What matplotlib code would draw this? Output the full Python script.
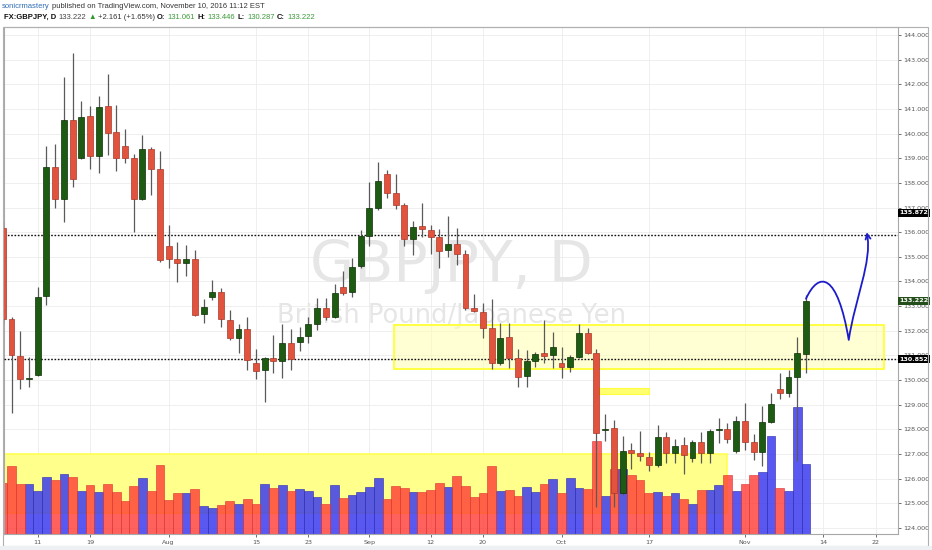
import matplotlib
matplotlib.use("Agg")
import matplotlib.pyplot as plt
import matplotlib.transforms as mtransforms
from matplotlib.patches import Rectangle, FancyArrowPatch
from matplotlib.path import Path
import numpy as np
import pandas as pd

# --- données (GBPJPY, journalier) ---
dates = pd.bdate_range("2016-07-05", "2016-11-10")

opens = [136.18, 132.47, 130.99, 130.03, 130.21, 133.41, 138.66, 137.36, 140.55, 139.02,
         140.71, 139.10, 141.12, 140.05, 139.50, 139.00, 137.35, 139.36, 138.55, 135.44,
         134.90, 134.76, 134.90, 132.67, 133.38, 133.59, 132.44, 131.72, 132.06, 130.71,
         130.41, 130.88, 130.79, 131.49, 131.53, 131.79, 132.28, 132.91, 132.57, 133.79,
         133.59, 134.63, 135.85, 136.97, 138.36, 137.58, 137.10, 135.71, 136.25, 136.09,
         135.82, 135.28, 135.52, 135.11, 132.91, 132.77, 132.10, 130.68, 131.74, 130.90,
         130.17, 130.79, 131.09, 131.02, 130.71, 130.52, 130.93, 131.93, 131.09, 127.98,
         128.04, 125.43, 127.16, 127.05, 126.87, 126.56, 127.70, 127.05, 127.37, 126.83,
         127.50, 127.03, 127.97, 128.02, 127.12, 128.34, 127.50, 127.10, 128.31, 129.63,
         129.49, 130.11, 131.061]
highs = [136.40, 132.55, 131.99, 130.93, 133.79, 139.50, 139.57, 142.28, 143.26, 141.32,
         141.12, 141.53, 142.42, 141.15, 140.17, 139.16, 139.94, 139.47, 139.29, 136.29,
         135.60, 135.48, 135.28, 133.28, 134.06, 133.72, 132.84, 132.28, 132.57, 131.25,
         130.95, 131.83, 132.28, 132.06, 132.17, 132.57, 133.32, 133.32, 133.90, 134.44,
         134.94, 136.09, 138.05, 138.86, 138.52, 138.36, 137.17, 136.47, 137.20, 136.29,
         136.12, 136.66, 136.16, 135.28, 133.49, 133.14, 133.28, 132.30, 132.30, 131.25,
         131.22, 131.15, 132.44, 131.96, 131.36, 131.00, 132.28, 132.10, 131.25, 128.62,
         128.38, 127.73, 127.46, 127.93, 127.10, 128.18, 127.88, 127.60, 127.70, 127.57,
         127.91, 128.00, 128.45, 128.27, 128.54, 129.06, 127.81, 128.95, 129.49, 130.27,
         130.41, 131.74, 133.446]
lows = [132.30, 128.67, 129.63, 129.73, 130.15, 133.05, 136.97, 136.43, 137.82, 138.95,
        138.55, 138.39, 139.13, 138.50, 138.80, 136.02, 137.30, 137.51, 134.80, 134.56,
        133.97, 134.24, 132.60, 132.30, 133.25, 132.14, 131.63, 131.09, 130.41, 130.03,
        129.12, 130.30, 130.07, 130.41, 131.18, 131.49, 132.03, 132.44, 132.50, 133.45,
        133.38, 134.55, 135.44, 136.90, 137.37, 136.93, 135.44, 135.07, 135.82, 135.11,
        134.53, 135.00, 134.67, 132.85, 132.75, 131.70, 130.44, 130.60, 130.48, 129.73,
        129.71, 130.55, 130.71, 130.48, 130.10, 130.34, 130.90, 131.05, 124.84, 127.54,
        124.86, 125.34, 126.38, 126.73, 126.31, 126.49, 126.65, 126.63, 126.19, 126.67,
        126.65, 126.65, 127.46, 127.46, 127.05, 127.16, 126.76, 126.52, 128.25, 129.22,
        129.33, 126.73, 130.287]
closes = [132.47, 131.02, 130.03, 130.06, 133.38, 138.66, 137.33, 140.55, 138.15, 140.69,
          139.10, 141.09, 140.04, 139.00, 139.00, 137.33, 139.36, 138.55, 134.87, 134.90,
          134.76, 134.90, 132.64, 132.98, 133.59, 132.47, 131.72, 132.06, 130.82, 130.38,
          130.88, 130.79, 131.49, 130.84, 131.76, 132.28, 132.91, 132.57, 133.55, 133.55,
          134.60, 135.85, 136.97, 138.09, 137.58, 137.10, 135.71, 136.22, 136.13, 135.82,
          135.25, 135.51, 135.11, 132.91, 132.80, 132.10, 130.68, 131.72, 130.88, 130.14,
          130.77, 131.05, 130.99, 131.33, 130.52, 130.93, 131.93, 131.09, 127.87, 128.02,
          125.41, 127.14, 127.05, 126.92, 126.56, 127.70, 127.05, 127.34, 126.96, 127.50,
          127.03, 127.93, 128.01, 127.60, 128.34, 127.50, 127.10, 128.31, 129.02, 129.49,
          130.11, 131.09, 133.222]
volumes = [51, 68, 50, 50, 43, 57, 54, 60, 57, 43, 49, 42, 50, 42, 33, 48, 56, 43, 69, 34,
           41, 41, 45, 28, 26, 29, 33, 30, 35, 30, 50, 46, 49, 43, 45, 43, 37, 30, 49, 36,
           39, 42, 47, 56, 35, 48, 46, 42, 42, 44, 51, 47, 58, 48, 37, 41, 68, 43, 44, 38,
           47, 42, 50, 55, 41, 56, 46, 45, 93, 38, 65, 65, 59, 54, 41, 42, 38, 41, 35, 30,
           44, 44, 49, 59, 43, 50, 59, 62, 98, 46, 43, 127, 70]

tick_dates = ["2016-07-11", "2016-07-19", "2016-08-01", "2016-08-15", "2016-08-23",
              "2016-09-01", "2016-09-12", "2016-09-20", "2016-10-03", "2016-10-17",
              "2016-11-01", "2016-11-14", "2016-11-22"]
tick_labels = ["11", "19", "Aug", "15", "23", "Sep", "12", "20", "Oct", "17", "Nov", "14", "22"]

price_ticks = list(range(124, 145))
levels = [135.872, 130.852]
last_price = 133.222

# zones dessinées (en barres / prix)
zone_range = (44.85, 100.94, 130.44, 132.24)
zone_small = (68.3, 74.0, 129.42, 129.69)
zone_volume = (-2.0, 83.0, 124.6, 127.0)
# flèche tracée à la main : départ, contrôles, creux, contrôles, pointe
arrow_pts = [(92.0, 133.3), (93.5, 134.45), (95.6, 134.35), (96.9, 131.63),
             (97.6, 133.3), (99.6, 134.8), (98.96, 136.0)]

W, H = 932, 550
fig = plt.figure(figsize=(W / 100, H / 100), dpi=100, facecolor="white")
ax = fig.add_axes([4 / W, 16 / H, 894 / W, 507 / H])
ax.set_facecolor("white")

x = np.arange(len(dates))
all_days = pd.bdate_range("2016-07-05", "2016-11-30")
xticks = all_days.get_indexer(pd.to_datetime(tick_dates))

ax.set_xlim(0.14, 102.54)
ax.set_ylim(123.76, 144.32)

# grille
for t in price_ticks:
    ax.axhline(t, color="#ececec", lw=0.6, zorder=0.5)
for t in xticks:
    ax.axvline(t, color="#ececec", lw=0.6, zorder=0.5)

# filigrane
ax.text(51.4, 133.98, "GBPJPY, D", fontsize=41, color="#e6e6e6", ha="center",
        va="baseline", zorder=0.8)
ax.text(51.4, 132.3, "British Pound/Japanese Yen", fontsize=18.5, color="#e6e6e6",
        ha="center", va="baseline", zorder=0.8)

# zone jaune du volume
x0, x1, y0, y1 = zone_volume
ax.add_patch(Rectangle((x0, y0), x1 - x0, y1 - y0, facecolor="#ffff8c",
                       edgecolor="#ffff50", lw=1.2, zorder=1))

# volumes (quart inférieur du panneau)
up = np.array(closes) >= np.array(opens)
vol_frac = np.array(volumes) / max(volumes) * 0.25
trans_v = mtransforms.blended_transform_factory(ax.transData, ax.transAxes)
ax.bar(x[up], vol_frac[up], width=1.0, bottom=0, color="#3434f0", alpha=0.82,
       edgecolor="#2a2ab0", lw=0.5, transform=trans_v, zorder=2)
ax.bar(x[~up], vol_frac[~up], width=1.0, bottom=0, color="#ff3a34", alpha=0.8,
       edgecolor="#d83030", lw=0.5, transform=trans_v, zorder=2)

# zone de range
x0, x1, y0, y1 = zone_range
ax.add_patch(Rectangle((x0, y0), x1 - x0, y1 - y0, facecolor="#ffffb0", alpha=0.55,
                       edgecolor="none", zorder=2.5))
ax.add_patch(Rectangle((x0, y0), x1 - x0, y1 - y0, facecolor="none",
                       edgecolor="#ffff40", lw=1.4, zorder=2.6))
x0, x1, y0, y1 = zone_small
ax.add_patch(Rectangle((x0, y0), x1 - x0, y1 - y0, facecolor="#ffff70",
                       edgecolor="#ffff40", lw=0.8, zorder=2.6))

# lignes horizontales
for lv in levels:
    ax.axhline(lv, color="#111111", lw=1.0, ls=(0, (1.2, 1.2)), zorder=3)

# bougies
o = np.array(opens)
c = np.array(closes)
ax.vlines(x, lows, highs, color="#5a5a5a", lw=0.9, zorder=3.5)
body_h = np.maximum(np.abs(c - o), 0.05)
body_b = np.minimum(o, c)
ax.bar(x[up], body_h[up], bottom=body_b[up], width=0.68, color="#1d5b12",
       edgecolor="#0e2e08", lw=0.5, zorder=4)
ax.bar(x[~up], body_h[~up], bottom=body_b[~up], width=0.68, color="#e2533e",
       edgecolor="#a8392a", lw=0.5, zorder=4)

# flèche bleue
codes = [Path.MOVETO, Path.CURVE4, Path.CURVE4, Path.CURVE4,
         Path.CURVE4, Path.CURVE4, Path.CURVE4]
arrow = FancyArrowPatch(path=Path(arrow_pts, codes), arrowstyle="->",
                        mutation_scale=9, color="#1c1ccc", lw=1.3, zorder=5)
ax.add_patch(arrow)

# axes
ax.yaxis.tick_right()
ax.set_yticks(price_ticks)
ax.set_yticklabels([f"{v:.3f}" for v in price_ticks])
ax.set_xticks(xticks)
ax.set_xticklabels(tick_labels)
ax.tick_params(axis="both", labelsize=4.6, colors="#555555", length=2.5, width=0.6, pad=1.5)
for s in ax.spines.values():
    s.set_color("#a8a8a8")
    s.set_linewidth(0.8)

# étiquettes de prix à droite
trans_l = mtransforms.blended_transform_factory(ax.transAxes, ax.transData)
for val, ypos, bg in [(135.872, 136.78, "#000000"), (130.852, 130.852, "#000000"),
                      (last_price, last_price, "#254f1a")]:
    ax.text(1.0015, ypos, f"{val:.3f}", transform=trans_l, fontsize=4.6, color="white",
            fontweight="bold", ha="left", va="center", zorder=6, clip_on=False,
            bbox=dict(boxstyle="square,pad=0.25", fc=bg, ec="none"))

# cadre extérieur
fig.patches.append(Rectangle((3 / W, 4 / H), 925 / W, 519 / H, transform=fig.transFigure,
                             fill=False, edgecolor="#b0b0b0", lw=0.8))
fig.patches.append(Rectangle((0, 0), 1, 4 / H, transform=fig.transFigure,
                             facecolor="#eef1f4", edgecolor="none"))

# en-tête : morceaux de texte enchaînés
renderer = fig.canvas.get_renderer()
fam = ["Liberation Sans", "DejaVu Sans"]


def ligne_entete(parts, x_px, y_px, gap=2.2):
    xp = x_px
    for s, col, wt in parts:
        t = fig.text(xp / W, 1 - y_px / H, s, color=col, fontsize=5.5, fontweight=wt,
                     family=fam, ha="left", va="center")
        xp = t.get_window_extent(renderer).x1 + gap


ligne_entete([("sonicrmastery", "#2e6db4", "normal"),
              ("published on TradingView.com, November 10, 2016 11:12 EST", "#333333", "normal")],
             2, 7)
ligne_entete([("FX:GBPJPY, D", "#111111", "bold"), ("133.222", "#444444", "normal"),
              ("\u25b2", "#2a9a2a", "normal"), ("+2.161 (+1.65%)", "#333333", "normal"),
              ("O:", "#111111", "bold"), ("131.061", "#3a9a3a", "normal"),
              ("H:", "#111111", "bold"), ("133.446", "#3a9a3a", "normal"),
              ("L:", "#111111", "bold"), ("130.287", "#3a9a3a", "normal"),
              ("C:", "#111111", "bold"), ("133.222", "#3a9a3a", "normal")],
             4, 17.5)

fig.savefig("out.png", dpi=100, facecolor="white")
